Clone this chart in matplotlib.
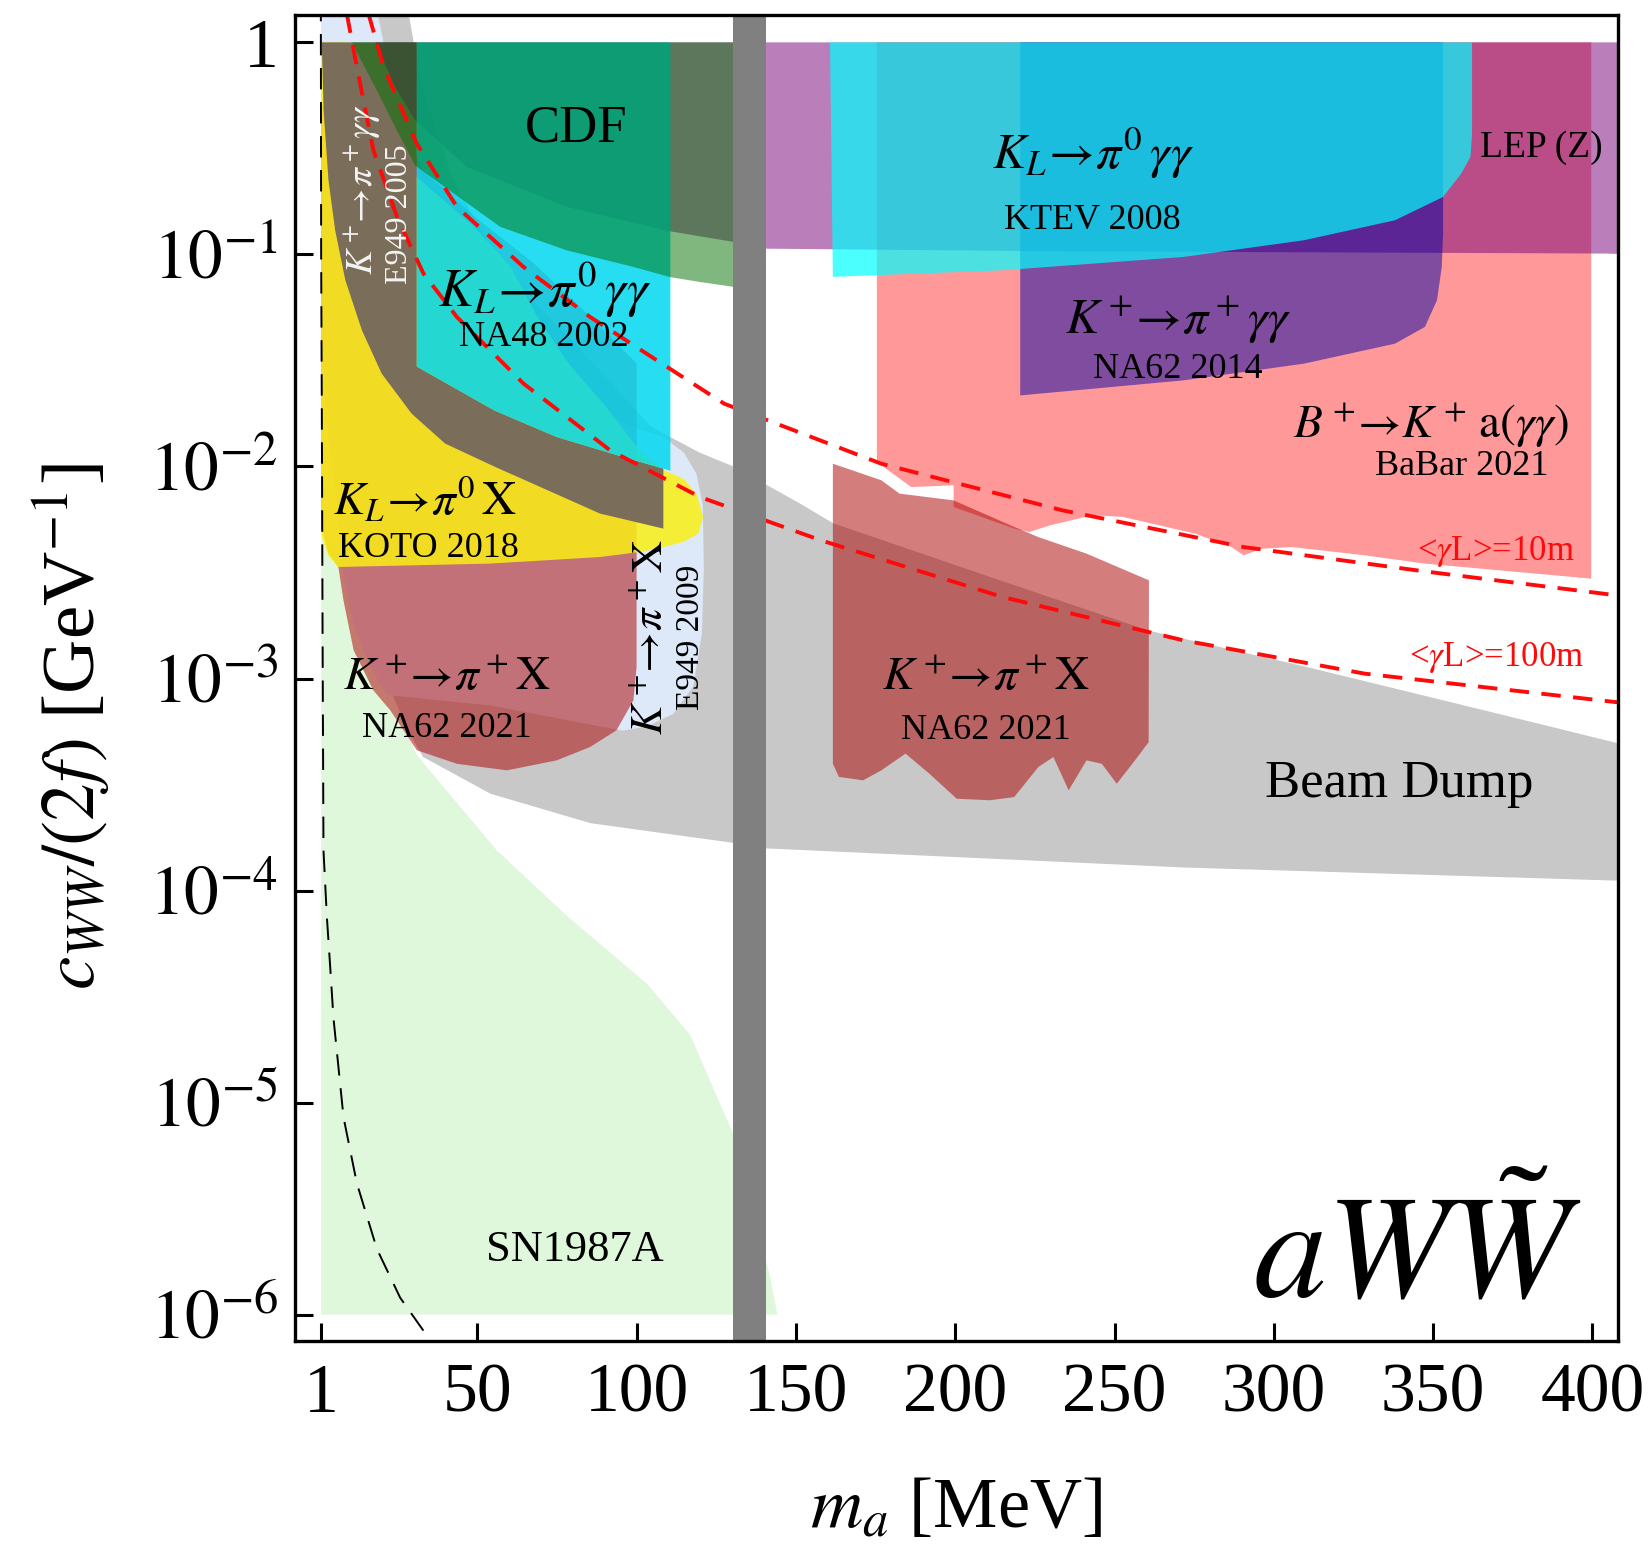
import numpy as np
import matplotlib
matplotlib.use("Agg")
import matplotlib.pyplot as plt
from matplotlib.ticker import NullLocator

plt.rcParams['font.family'] = ['Liberation Serif', 'DejaVu Serif']
plt.rcParams['mathtext.fontset'] = 'stix'

# mass in MeV, coupling given as log10(c_WW/(2f) in GeV^-1)
sn_m = [1, 1, 12.6, 25.8, 31.0, 56.1, 78.2, 103.3, 116.8, 130.4, 141.9, 144.2]
sn_lc = [-6.0, -2.28, -2.58, -3.18, -3.36, -3.81, -4.12, -4.44, -4.68, -5.15, -5.82, -6.0]

beam_m = [27.7, 32.4, 42.3, 58.8, 81.9, 104.3, 119.8, 130.4, 151.2, 161.7, 210.9, 260.7, 309.6,
          366.3, 412, 412, 271.6, 140.6, 131.4, 116.8, 85.5, 54.1, 33.0, 27.4, 20.8, 15.85, 13.2,
          15.85, 17.8]
beam_lc = [0.2, -0.199, -0.645, -1.092, -1.439, -1.811, -1.935, -2.0, -2.174, -2.268, -2.521, -2.774,
           -2.943, -3.151, -3.32, -3.955, -3.891, -3.801, -3.777, -3.747, -3.682, -3.543, -3.370,
           -3.226, -2.978, -2.035, -1.042, -0.298, 0.2]

e949b_m = [17.8, 24.1, 32.4, 42.3, 55.5, 75.3, 98.4, 108.3, 114.9, 118.8, 120.8, 121.1, 120.5,
           117.8, 111.6, 103.3, 95.7, 54.1, 21.5, 15.85, 10.9, 7.9, 6.0, 2.65, 1.0, 1.0]
e949b_lc = [0.2, -0.248, -0.645, -1.042, -1.340, -1.638, -1.811, -1.861, -1.935, -2.035, -2.184,
            -2.481, -2.789, -3.037, -3.166, -3.226, -3.246, -3.127, -3.077, -2.928, -2.730, -2.506,
            -2.184, -1.787, -1.290, 0.2]

babar_m = [175.4, 399.6, 399.6, 347.4, 328.5, 305.7, 296.2, 290.5, 286.7, 275.4, 252.6, 243.1,
           229.9, 223.2, 218.5, 199.5, 199.5, 186.2, 175.4]
babar_lc = [0, 0, -2.529, -2.458, -2.419, -2.380, -2.388, -2.419, -2.380, -2.317, -2.238, -2.230,
            -2.277, -2.309, -2.293, -2.191, -2.089, -2.097, -1.979]

na62a_m = [1.0, 25.75, 32.4, 48.9, 67.7, 85.2, 100.0, 100.0, 99.0, 93.7, 85.4, 74.9, 59.3, 43.6,
           31.0, 22.7, 17.4, 11.2, 8.0, 6.4, 3.3, 1.0]
na62a_lc = [-0.298, -0.298, -0.596, -0.819, -1.042, -1.290, -1.514, -2.945, -3.103, -3.244, -3.323,
            -3.386, -3.433, -3.402, -3.338, -3.150, -3.056, -2.867, -2.631, -2.474, -2.407, -2.283]

na62b_m = [161.6, 176.8, 182.5, 199.5, 218.5, 226.1, 241.2, 260.8, 260.7, 256.4, 250.7, 246.0,
           241.2, 235.6, 230.8, 226.1, 218.5, 210.9, 200.5, 191.9, 184.4, 176.8, 171.1, 163.5, 161.6]
na62b_lc = [-1.987, -2.065, -2.128, -2.160, -2.285, -2.333, -2.411, -2.537, -3.300, -3.386, -3.496,
            -3.402, -3.386, -3.527, -3.370, -3.417, -3.559, -3.574, -3.567, -3.449, -3.354, -3.433,
            -3.480, -3.464, -3.402]

koto_m = [1.0, 9.25, 31.0, 48.9, 60.4, 68.7, 78.6, 90.1, 101.0, 108.3, 114.7, 118.8, 120.9, 119.3,
          114.7, 108.4, 101.1, 88.5, 54.0, 6.4, 3.3, 1.3, 1.0]
koto_lc = [0, 0, -0.635, -0.868, -1.057, -1.290, -1.514, -1.712, -1.926, -2.015, -2.058, -2.128,
           -2.238, -2.317, -2.356, -2.380, -2.403, -2.427, -2.458, -2.474, -2.422, -2.333, -2.258]

e949a_m = [1.2, 31.0, 31.0, 55.5, 74.9, 95.7, 108.4, 108.4, 88.5, 55.6, 39.9, 29.4, 20.0, 13.8,
           8.6, 5.4, 3.3, 1.76]
e949a_lc = [0, 0, -1.529, -1.737, -1.861, -1.955, -2.010, -2.293, -2.222, -2.002, -1.892, -1.751,
            -1.562, -1.358, -1.122, -0.886, -0.650, -0.320]

lep_m = [18.0, 412, 412, 404.3, 230.4, 140.7, 130.4, 110.5, 78.1, 46.7, 30.5, 24.2]
lep_lc = [0, 0, -1.0, -0.996, -0.985, -0.973, -0.941, -0.891, -0.776, -0.588, -0.367, -0.210]

na62c_m = [220.4, 353.1, 353.1, 352.7, 351.2, 347.4, 338.0, 309.5, 271.6, 220.4]
na62c_lc = [0, 0, -0.902, -1.059, -1.216, -1.342, -1.421, -1.515, -1.594, -1.665]

na48_m = [31.0, 110.6, 110.6, 95.7, 74.9, 55.5, 31.0]
na48_lc = [0, 0, -2.020, -1.955, -1.861, -1.737, -1.529]

ktev_m = [160.7, 362.2, 362.2, 361.7, 358.8, 353.1, 338.0, 309.5, 271.6, 214.7, 161.6]
ktev_lc = [0, 0, -0.430, -0.540, -0.619, -0.729, -0.839, -0.933, -1.012, -1.075, -1.106]

cdf_m = [10.6, 135, 135, 130.4, 119.9, 110.5, 99.0, 78.1, 57.2, 30.5, 24.2, 19.0]
cdf_lc = [0, 0, -1.16, -1.153, -1.130, -1.107, -1.059, -0.981, -0.870, -0.581, -0.399, -0.242]

pi0_band = (130.4, 140.6)

l10_m = [15.85, 20.6, 31.0, 43.6, 64.5, 85.4, 106.3, 127.5, 176.8, 233.7, 290.5, 347.4, 407.2, 410]
l10_lc = [0.135, -0.116, -0.477, -0.776, -1.059, -1.295, -1.499, -1.704, -1.987, -2.207, -2.380,
          -2.495, -2.607, -2.612]
l100_m = [9.05, 12.2, 17.4, 24.8, 33.1, 43.6, 64.5, 91.7, 119.9, 157.8, 214.7, 271.6, 328.5, 407.2, 410]
l100_lc = [0.135, -0.116, -0.509, -0.823, -1.090, -1.295, -1.609, -1.924, -2.144, -2.348, -2.615,
           -2.820, -2.977, -3.111, -3.115]

kin_m = [0.9, 1.0, 1.2, 1.45, 1.73, 2.8, 3.84, 4.86, 8.03, 12.2, 18.5, 25.8, 35.2, 36.5]
kin_lc = [0.2, -1.0, -1.69, -2.8, -3.81, -4.125, -4.36, -4.60, -5.07, -5.38, -5.69, -5.92, -6.12, -6.16]

xticks = [1, 50, 100, 150, 200, 250, 300, 350, 400]
yticks = [1, 1e-1, 1e-2, 1e-3, 1e-4, 1e-5, 1e-6]
ytick_labels = ['1', r'$10^{-1}$', r'$10^{-2}$', r'$10^{-3}$', r'$10^{-4}$', r'$10^{-5}$', r'$10^{-6}$']

fig = plt.figure(figsize=(16.5, 15.46), dpi=100)
ax = fig.add_axes([0.1788, 0.1326, 0.8018, 0.8577])
ax.set_yscale('log')
ax.set_xlim(-7.2, 408.0)
ax.set_ylim(10 ** -6.124, 10 ** 0.129)


def region(m, lc, color, alpha, z):
    ax.fill(m, 10.0 ** np.array(lc), color=color, alpha=alpha, lw=0, zorder=z)


region(sn_m, sn_lc, '#dff8dc', 1.0, 1)
region(beam_m, beam_lc, '#c8c8c8', 1.0, 2)
region(e949b_m, e949b_lc, '#dde8f8', 1.0, 3)
region(babar_m, babar_lc, '#ff0000', 0.4, 4)
region(na62a_m, na62a_lc, '#aa0000', 0.51, 5)
region(na62b_m, na62b_lc, '#aa0000', 0.51, 5)
region(koto_m, koto_lc, '#faf014', 0.85, 6)
region(e949a_m, e949a_lc, '#7a6e5a', 1.0, 7)
region(lep_m, lep_lc, '#760076', 0.5, 8)
region(na62c_m, na62c_lc, '#0000a5', 0.5, 9)
region(na48_m, na48_lc, '#00d7f0', 0.85, 10)
region(ktev_m, ktev_lc, '#00ffff', 0.7, 11)
region(cdf_m, cdf_lc, '#007100', 0.5, 12)

ax.plot(l10_m, 10.0 ** np.array(l10_lc), color='#ff0a0a', lw=2.8, ls=(0, (5, 3.2)), zorder=13)
ax.plot(l100_m, 10.0 ** np.array(l100_lc), color='#ff0a0a', lw=2.8, ls=(0, (5, 3.2)), zorder=13)
ax.plot(kin_m, 10.0 ** np.array(kin_lc), color='black', lw=1.4, ls=(0, (11, 6.5)), zorder=13)
ax.axvspan(*pi0_band, color='#808080', lw=0, zorder=14)

big = 36
small = 26
T = dict(ha='center', va='center', zorder=20)
ax.text(80.9, 10 ** -0.407, 'CDF', fontsize=38, **T)
ax.text(71.0, 10 ** -1.169, r'$K_L\!\rightarrow\!\pi^0\,\gamma\gamma$', fontsize=38, **T)
ax.text(71.0, 10 ** -1.39, 'NA48 2002', fontsize=small, **T)
ax.text(243.1, 10 ** -0.525, r'$K_L\!\rightarrow\!\pi^0\,\gamma\gamma$', fontsize=big, **T)
ax.text(243.1, 10 ** -0.839, 'KTEV 2008', fontsize=small, **T)
ax.text(384.0, 10 ** -0.496, 'LEP (Z)', fontsize=27, **T)
ax.text(270.1, 10 ** -1.31, r'$K^+\!\!\rightarrow\!\pi^+\gamma\gamma$', fontsize=big, **T)
ax.text(269.7, 10 ** -1.542, 'NA62 2014', fontsize=small, **T)
ax.text(349.3, 10 ** -1.806, r'$B^+\!\!\rightarrow\!K^+\,\mathrm{a}(\gamma\gamma)$', fontsize=34, **T)
ax.text(358.8, 10 ** -1.998, 'BaBar 2021', fontsize=small, **T)
ax.text(369.7, 10 ** -2.403, r'<$\gamma$L>=10m', fontsize=25, color='#ff0a0a', **T)
ax.text(369.7, 10 ** -2.902, r'<$\gamma$L>=100m', fontsize=25, color='#ff0a0a', **T)
ax.text(209.5, 10 ** -3.0, r'$K^+\!\!\rightarrow\!\pi^+\mathrm{X}$', fontsize=34, **T)
ax.text(209.5, 10 ** -3.244, 'NA62 2021', fontsize=small, **T)
ax.text(339.4, 10 ** -3.499, 'Beam Dump', fontsize=38, **T)
ax.text(33.6, 10 ** -2.160, r'$K_L\!\rightarrow\!\pi^0\,\mathrm{X}$', fontsize=34, **T)
ax.text(34.7, 10 ** -2.388, 'KOTO 2018', fontsize=small, **T)
ax.text(40.4, 10 ** -3.0, r'$K^+\!\!\rightarrow\!\pi^+\mathrm{X}$', fontsize=34, **T)
ax.text(40.4, 10 ** -3.236, 'NA62 2021', fontsize=small, **T)
ax.text(104.7, 10 ** -2.804, r'$K^+\!\!\rightarrow\!\pi^+\mathrm{X}$', fontsize=32, rotation=90, **T)
ax.text(117.0, 10 ** -2.804, 'E949 2009', fontsize=24, rotation=90, **T)
ax.text(13.6, 10 ** -0.695, r'$K^+\!\!\rightarrow\!\pi^+\gamma\gamma$', fontsize=27, rotation=90,
        color='#f4f4f4', **T)
ax.text(25.6, 10 ** -0.809, 'E949 2005', fontsize=23, rotation=90, color='#f4f4f4', **T)
ax.text(80.7, 10 ** -5.697, 'SN1987A', fontsize=32, **T)
ax.text(345.0, 10 ** -5.917, r'$aW\tilde{W}$', fontsize=105, ha='center', va='baseline', zorder=20)

ax.set_xticks(xticks)
ax.set_xticklabels([str(t) for t in xticks])
ax.set_yticks(yticks)
ax.set_yticklabels(ytick_labels)
ax.yaxis.set_minor_locator(NullLocator())
ax.tick_params(direction='in', length=13, width=2.2, labelsize=50)
ax.tick_params(axis='x', pad=16)
ax.tick_params(axis='y', pad=12)
for s in ax.spines.values():
    s.set_linewidth(2.4)
    s.set_zorder(30)

ax.set_xlabel(r'$m_a$ [MeV]', fontsize=52)
ax.xaxis.set_label_coords(0.5, -0.1275)
ax.xaxis.label.set_va('center')
ax.set_ylabel(r'$c_{WW}/(2f)$ [GeV$^{-1}$]', fontsize=54)
ax.yaxis.set_label_coords(-0.1686, 0.463)
ax.yaxis.label.set_va('center')

fig.savefig('out.png', dpi=100)
